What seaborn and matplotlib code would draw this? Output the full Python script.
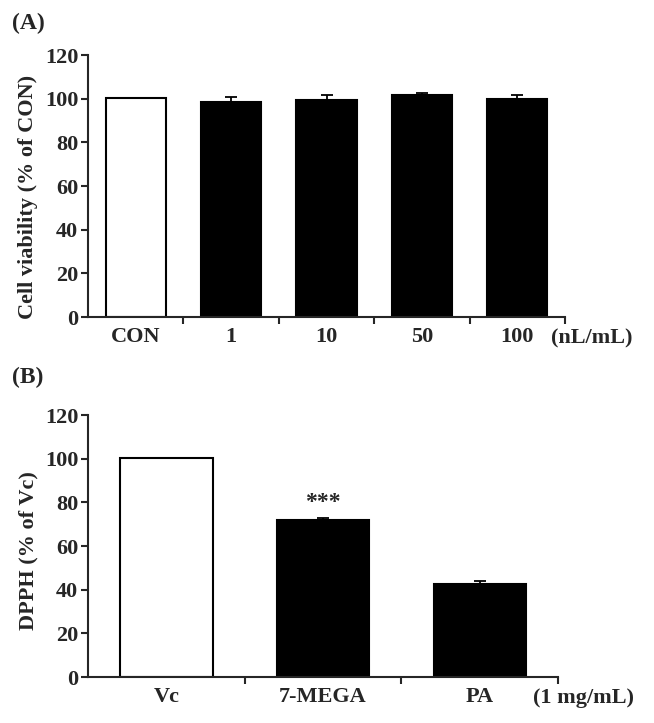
import numpy as np
import pandas as pd
import matplotlib
matplotlib.use('Agg')
import matplotlib.pyplot as plt
import seaborn as sns

# Dados do painel (A)
grupos_a = ['CON', '1', '10', '50', '100']
viab_a = [100.5, 98.3, 99.2, 101.5, 100.0]
erro_a = [0.0, 2.5, 2.6, 0.9, 1.5]
cores_a = ['white', 'black', 'black', 'black', 'black']

# Dados do painel (B)
grupos_b = ['Vc', '7-MEGA', 'PA']
dpph_b = [100.5, 72.0, 42.8]
erro_b = [0.0, 1.0, 1.0]
cores_b = ['white', 'black', 'black']

sns.set_style('ticks')
plt.rcParams['font.family'] = ['Liberation Serif', 'DejaVu Serif']
plt.rcParams['font.weight'] = 'bold'

fig = plt.figure(figsize=(6.54, 7.23), dpi=100)
ax_a = fig.add_axes([0.1346, 0.5615, 0.7294, 0.3624])
ax_b = fig.add_axes([0.1346, 0.0636, 0.7187, 0.3624])


def painel(ax, grupos, valores, erros, cores, largura, ylabel, unidade,
           letra, pos_letra, pos_ylabel):
    df = pd.DataFrame({'grupo': grupos, 'valor': valores})
    sns.barplot(data=df, x='grupo', y='valor', hue='grupo', palette=cores,
                edgecolor='black', linewidth=1.5, width=largura,
                legend=False, ax=ax)
    x = np.arange(len(grupos))
    ax.errorbar(x, valores, yerr=[np.zeros(len(erros)), erros], fmt='none',
                ecolor='black', elinewidth=1.3, capsize=4, capthick=1.3)
    ax.set_ylim(0, 120)
    ax.set_yticks(range(0, 121, 20))
    ax.set_xlim(-0.5, len(grupos) - 0.5)
    ax.set_xticks(x)
    ax.set_xticklabels(grupos, fontsize=16, fontweight='bold')
    ax.tick_params(axis='x', which='major', length=0, pad=7)
    ax.set_xticks(x + 0.5, minor=True)
    ax.tick_params(axis='x', which='minor', length=5, width=1.5, direction='out')
    ax.tick_params(axis='y', length=5, width=1.5, labelsize=16, pad=2)
    for t in ax.get_yticklabels():
        t.set_fontweight('bold')
    ax.set_xlabel('')
    ax.set_ylabel(ylabel, fontsize=16, fontweight='bold')
    ax.yaxis.set_label_coords(pos_ylabel[0], pos_ylabel[1])
    for lado in ['top', 'right']:
        ax.spines[lado].set_visible(False)
    for lado in ['left', 'bottom']:
        ax.spines[lado].set_linewidth(1.5)
    ax.text(1.055, -0.08, unidade, transform=ax.transAxes, ha='center',
            va='center', fontsize=16, fontweight='bold')
    ax.text(pos_letra[0], pos_letra[1], letra, transform=ax.transAxes,
            ha='center', va='center', fontsize=17, fontweight='bold')


painel(ax_a, grupos_a, viab_a, erro_a, cores_a, 0.63,
       'Cell viability (% of CON)', '(nL/mL)', '(A)', (-0.126, 1.12),
       (-0.104, 0.458))
painel(ax_b, grupos_b, dpph_b, erro_b, cores_b, 0.59,
       'DPPH (% of Vc)', '(1 mg/mL)', '(B)', (-0.128, 1.145),
       (-0.105, 0.481))

# Significância
ax_b.text(1, dpph_b[1] + erro_b[1] + 2, '***', ha='center', va='bottom',
          fontsize=17, fontweight='bold')

plt.savefig('out.png', dpi=100)
